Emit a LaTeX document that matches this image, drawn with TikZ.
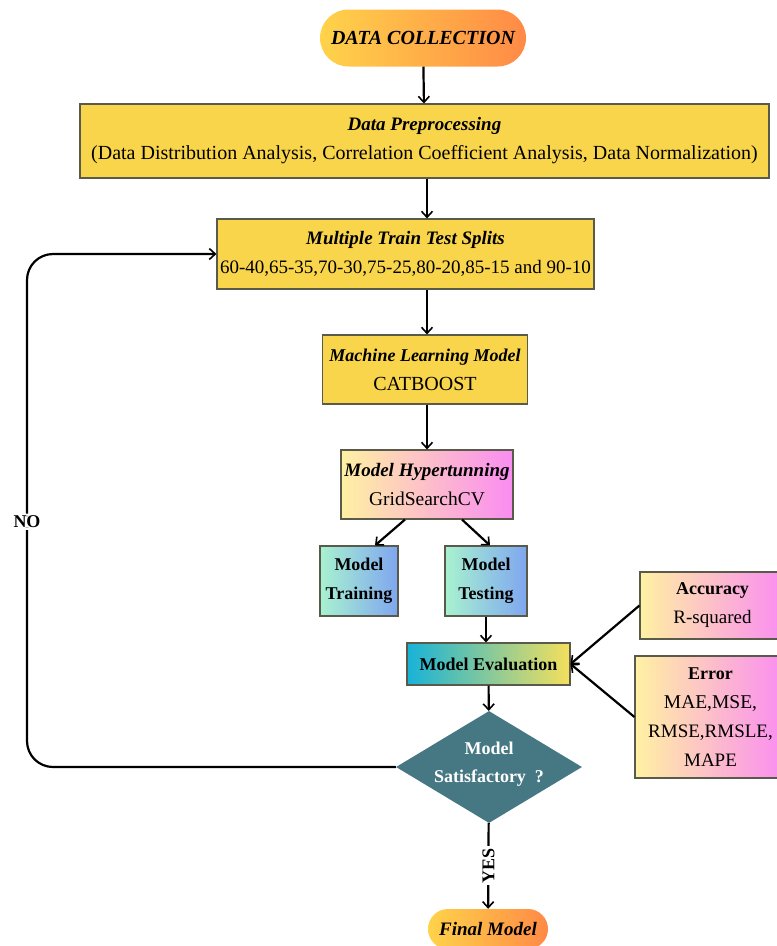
\documentclass[tikz,border=0pt]{standalone}
\usepackage{fontspec}
\setmainfont{Liberation Serif}
\usetikzlibrary{
  arrows.meta,
  positioning,
  shapes.geometric,
  shapes.misc,
}

\definecolor{stepyellow}{HTML}{F9D54B}
\definecolor{pillA}{HTML}{FFD34A}
\definecolor{pillB}{HTML}{FF8A46}
\definecolor{paleA}{HTML}{FFF1A2}
\definecolor{paleM}{HTML}{FDC2C6}
\definecolor{paleB}{HTML}{FA8CF2}
\definecolor{mintA}{HTML}{A8F2D0}
\definecolor{mintB}{HTML}{7FA6F0}
\definecolor{evalA}{HTML}{18B2D8}
\definecolor{evalB}{HTML}{F5E05C}
\definecolor{decideteal}{HTML}{467884}
\definecolor{edgegray}{HTML}{5A5A4A}

\begin{document}
\begin{tikzpicture}[
  x=1pt, y=-1pt,
  font=\fontsize{19}{29}\selectfont,
  box/.style={draw=edgegray, line width=1.1pt, align=center, inner sep=0pt},
  yellowbox/.style={box, fill=stepyellow},
  pinkbox/.style={box, left color=paleA, middle color=paleM, right color=paleB},
  bluebox/.style={box, left color=mintA, right color=mintB},
  pill/.style={rounded rectangle, inner sep=0pt, left color=pillA, right color=pillB},
  flow/.style={-{Straight Barb[length=6pt,width=11pt,line width=1.6pt]}, line width=2.2pt},
  tag/.style={font=\fontsize{18}{22}\selectfont\bfseries, fill=white, inner sep=2pt},
]
  % 1pt = 1px of the original, y downwards
  \clip (0,0) rectangle (777,946);

  % Top of the chain
  \node[pill, minimum width=206, minimum height=57] (collect) at (423,38)
    {\fontsize{20}{24}\selectfont\bfseries\itshape DATA COLLECTION};
  \node[yellowbox, minimum width=689, minimum height=74] (prep) at (424.5,141)
    {\bfseries\itshape Data Preprocessing\\
     \fontsize{20}{29}\selectfont
     (Data Distribution Analysis, Correlation Coefficient Analysis, Data Normalization)};
  \node[yellowbox, minimum width=377, minimum height=70] (splits) at (405.5,254)
    {\bfseries\itshape Multiple Train Test Splits\\
     60-40,65-35,70-30,75-25,80-20,85-15 and 90-10};
  \node[yellowbox, minimum width=205, minimum height=69] (mlmodel) at (425,369.5)
    {\fontsize{18}{29}\selectfont\bfseries\itshape Machine Learning Model\\
     \fontsize{20}{29}\selectfont CATBOOST};
  \node[pinkbox, minimum width=172, minimum height=69] (hyper) at (427,484.5)
    {\bfseries\itshape Model Hypertunning\\\fontsize{19.5}{29}\selectfont GridSearchCV};

  % Training / testing
  \node[bluebox, minimum width=78, minimum height=70,
        font=\fontsize{18}{29}\selectfont\bfseries] (train) at (359,581) {Model\\Training};
  \node[bluebox, minimum width=82, minimum height=70,
        font=\fontsize{18}{29}\selectfont\bfseries] (test) at (486,581) {Model\\Testing};

  % Evaluation and metrics
  \node[box, left color=evalA, right color=evalB, minimum width=163, minimum height=42,
        font=\fontsize{18}{22}\selectfont\bfseries] (eval) at (488.5,664) {Model Evaluation};
  \node[pinkbox, minimum width=145, minimum height=67] (acc) at (712.5,605.5)
    {\fontsize{18}{26}\selectfont\textbf{Accuracy}\\R-squared};
  \node[pinkbox, minimum width=151, minimum height=122] (err) at (710.5,717)
    {\fontsize{18}{28}\selectfont\textbf{Error}\\
     \fontsize{19.5}{28.5}\selectfont MAE,MSE,\\RMSE,RMSLE,\\MAPE};

  % Decision
  \node[diamond, fill=decideteal, minimum width=186, minimum height=112, inner sep=0pt,
        aspect=1.66] (decide) at (489,767) {};
  \node[text=white, align=center, font=\fontsize{18}{28}\selectfont\bfseries]
    (decidetxt) at (489,764) {Model\\Satisfactory\ \ ?};
  \node[pill, minimum width=120, minimum height=40] (final) at (488,929)
    {\bfseries\itshape Final Model};

  % Connectors
  \coordinate (spine) at (427,0);
  \coordinate (loop) at (27,0);
  \draw[flow] (collect) -- (prep);
  \draw[flow] (prep.south -| spine) -- (splits.north -| spine);
  \draw[flow] (splits.south -| spine) -- (mlmodel.north -| spine);
  \draw[flow] (mlmodel.south -| spine) -- (hyper.north -| spine);
  \draw[flow] ([xshift=-22]hyper.south) -- ([xshift=16]train.north);
  \draw[flow] ([xshift=35]hyper.south) -- ([xshift=4]test.north);
  \draw[flow] (test.south) -- (test.south |- eval.north);
  \draw[flow] (eval) -- (decide);
  \draw[flow] (acc.west) -- (eval.east);
  \draw[flow] (err.west) -- (eval.east);
  \draw[flow] (decide) -- node[tag, rotate=90] (yes) {YES} (final);
  \draw[flow, rounded corners=26] (decide.west) -- (decide.west -| loop)
    -- node[tag, pos=0.478] (no) {NO} (loop |- splits.west) -- (splits.west);
\end{tikzpicture}
\end{document}
